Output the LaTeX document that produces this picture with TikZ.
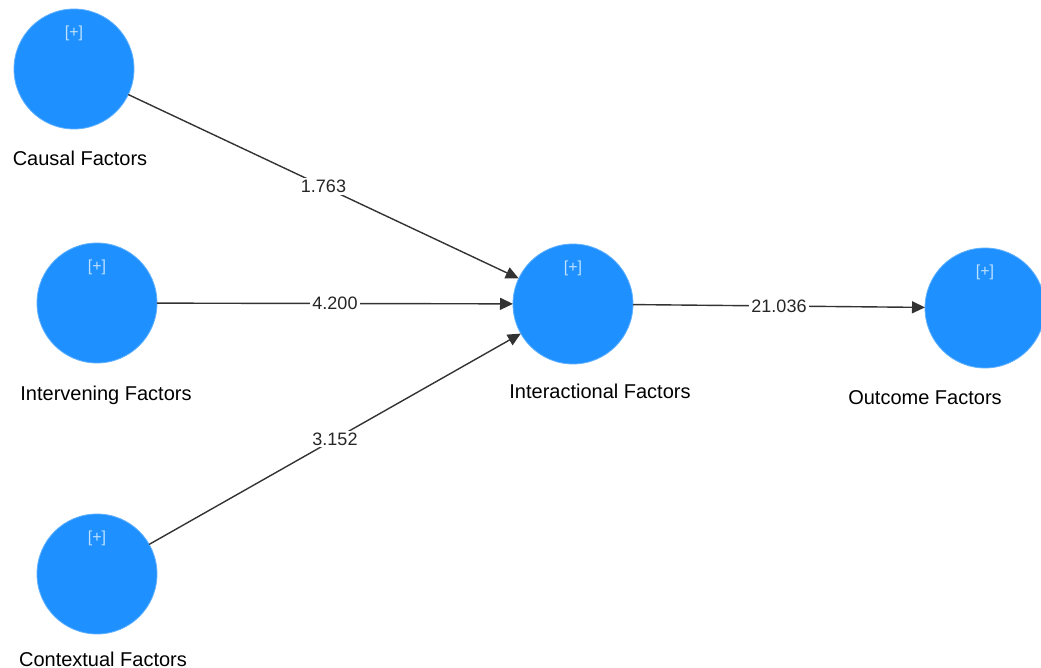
\documentclass[tikz,border=0pt]{standalone}
\usepackage{fontspec}
\setmainfont{Liberation Sans}
\usepackage{tikz}
\usetikzlibrary{arrows.meta,positioning,calc}
\definecolor{latentblue}{RGB}{30,144,255}
\definecolor{pluscolor}{RGB}{190,225,255}
\tikzset{
  latentnode/.style={circle,fill=latentblue,draw=latentblue!70!white,line width=0.4pt,
    minimum size=60pt,inner sep=0pt,outer sep=0pt},
  plusmark/.style={font=\fontsize{8}{9}\selectfont,text=pluscolor,inner sep=0pt},
  factorlabel/.style={font=\fontsize{10}{12}\selectfont,text=black,align=center},
  pathlabel/.style={font=\fontsize{9}{10}\selectfont,fill=white,inner sep=1pt,text=black!85},
  patharrow/.style={-{Triangle[length=6.5pt,width=6pt]},draw=black!80,line width=0.7pt}
}

\begin{document}
\begin{tikzpicture}[x=0.5pt,y=-0.5pt]
  \useasboundingbox (0,0) rectangle (1041,668);
  % latent variables
  \node[latentnode] (causal) at (74,69) {};
  \node[latentnode] (intervening) at (97,303) {};
  \node[latentnode] (contextual) at (97,574) {};
  \node[latentnode] (interactional) at (573,304) {};
  \node[latentnode] (outcome) at (985,308) {};
  \foreach \n in {causal,intervening,contextual,interactional,outcome}
    \node[plusmark] (\n plus) at ([yshift=-12pt]\n.north) {[+]};
  % names
  \node[factorlabel] (causalname) at (80,158) {Causal Factors};
  \node[factorlabel] (interveningname) at (106,395) {Intervening Factors};
  \node[factorlabel] (contextualname) at (103,659) {Contextual Factors};
  \node[factorlabel] (interactionalname) at (600,391) {Interactional Factors};
  \node[factorlabel] (outcomename) at (925,398) {Outcome Factors};
  % paths
  \draw[patharrow] (causal) -- node[pathlabel] {1.763} (interactional);
  \draw[patharrow] (intervening) -- node[pathlabel] {4.200} (interactional);
  \draw[patharrow] (contextual) -- node[pathlabel] {3.152} (interactional);
  \draw[patharrow] (interactional) -- node[pathlabel] {21.036} (outcome);
\end{tikzpicture}
\end{document}
